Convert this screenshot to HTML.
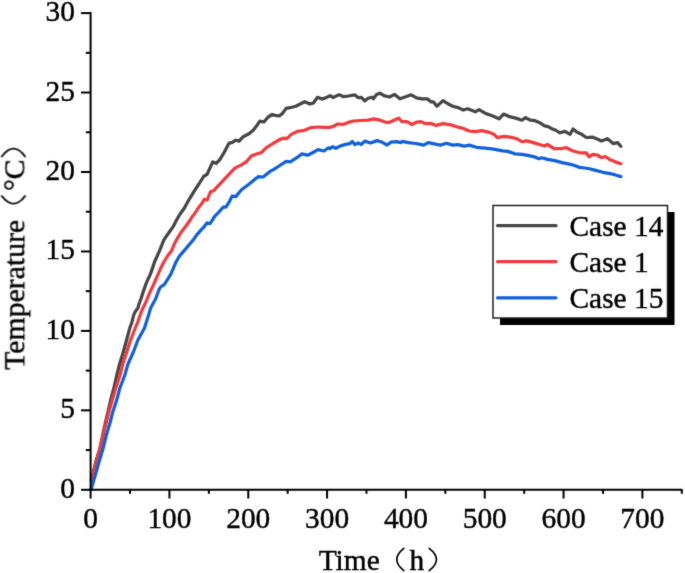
<!DOCTYPE html>
<html><head><meta charset="utf-8"><style>
html,body{margin:0;padding:0;background:#fff;}
svg{display:block;}
text{font-family:"Liberation Serif",serif;fill:#000;stroke:#000;stroke-width:0.4px;}
</style></head><body>
<svg width="685" height="573" viewBox="0 0 685 573">
<defs><filter id="sb" x="0" y="0" width="100%" height="100%" filterUnits="userSpaceOnUse" color-interpolation-filters="sRGB"><feConvolveMatrix order="3" kernelMatrix="0.01134 0.08382 0.01134 0.08382 0.61935 0.08382 0.01134 0.08382 0.01134" divisor="1" edgeMode="duplicate"/></filter></defs>
<rect width="685" height="573" fill="#fff"/>
<g filter="url(#sb)">
<rect width="685" height="573" fill="#fff"/>

<g>
<text transform="translate(75.00,497.80) scale(1,1.02)" font-size="29.4" text-anchor="end">0</text>
<text transform="translate(75.00,418.35) scale(1,1.02)" font-size="29.4" text-anchor="end">5</text>
<text transform="translate(75.00,338.90) scale(1,1.02)" font-size="29.4" text-anchor="end">10</text>
<text transform="translate(75.00,259.45) scale(1,1.02)" font-size="29.4" text-anchor="end">15</text>
<text transform="translate(75.00,180.00) scale(1,1.02)" font-size="29.4" text-anchor="end">20</text>
<text transform="translate(75.00,100.55) scale(1,1.02)" font-size="29.4" text-anchor="end">25</text>
<text transform="translate(75.00,21.10) scale(1,1.02)" font-size="29.4" text-anchor="end">30</text>
<text transform="translate(90.60,528.00) scale(1,1.02)" font-size="29.4" text-anchor="middle">0</text>
<text transform="translate(169.43,528.00) scale(1,1.02)" font-size="29.4" text-anchor="middle">100</text>
<text transform="translate(248.26,528.00) scale(1,1.02)" font-size="29.4" text-anchor="middle">200</text>
<text transform="translate(327.09,528.00) scale(1,1.02)" font-size="29.4" text-anchor="middle">300</text>
<text transform="translate(405.92,528.00) scale(1,1.02)" font-size="29.4" text-anchor="middle">400</text>
<text transform="translate(484.75,528.00) scale(1,1.02)" font-size="29.4" text-anchor="middle">500</text>
<text transform="translate(563.57,528.00) scale(1,1.02)" font-size="29.4" text-anchor="middle">600</text>
<text transform="translate(642.40,528.00) scale(1,1.02)" font-size="29.4" text-anchor="middle">700</text>
</g>
<g fill="none" stroke-width="3.25" stroke-linejoin="round" stroke-linecap="round">
<polyline stroke="#464646" points="91.3,480.0 96.3,460.0 100.1,448.0 102.5,436.0 105.1,424.0 108.0,412.0 110.7,400.0 113.9,388.0 116.6,376.0 119.6,364.0 123.3,352.0 126.6,340.0 129.8,328.0 132.0,322.0 133.4,316.0 134.8,312.4 136.2,310.3 137.8,308.2 139.0,304.0 141.0,298.7 142.5,294.0 144.1,289.3 145.7,284.7 147.6,280.0 150.3,274.4 152.5,268.1 154.5,262.0 157.2,256.0 159.7,250.4 161.8,245.1 163.9,239.9 169.3,232.0 173.3,226.4 176.5,220.1 180.1,214.0 184.4,208.0 188.9,199.8 193.7,191.9 198.9,184.0 203.6,176.5 207.1,174.4 209.9,168.1 212.7,161.9 216.2,163.3 219.6,159.8 223.3,153.9 229.1,143.1 232.4,142.3 235.7,140.2 239.1,141.2 243.2,136.7 249.0,133.8 253.2,130.2 256.5,126.1 259.8,121.1 263.9,122.0 268.1,117.0 272.2,114.5 276.4,115.7 279.5,115.8 282.4,113.6 286.1,108.4 289.9,107.7 295.8,106.2 300.2,104.0 304.7,101.7 309.9,104.0 313.6,102.9 317.3,97.3 322.5,99.1 326.2,97.6 330.0,95.7 333.3,97.5 339.2,94.6 343.5,96.7 348.5,96.0 354.6,94.8 358.4,97.7 361.4,97.4 364.7,100.9 368.1,98.2 372.0,97.2 373.4,98.8 376.5,94.6 380.0,93.2 383.9,95.6 389.5,97.0 394.6,94.4 399.9,98.8 405.1,97.0 411.2,94.8 416.5,97.9 422.0,98.8 427.3,98.8 430.8,101.8 433.4,101.8 436.9,106.2 443.0,100.6 447.4,103.5 452.7,106.2 458.8,107.9 463.2,110.0 467.6,108.8 475.4,111.8 479.0,109.7 485.1,113.2 492.1,115.8 499.1,118.8 503.5,114.1 509.6,116.7 516.6,118.4 521.9,120.2 525.4,117.6 530.6,120.2 535.1,120.7 540.2,122.9 544.6,125.8 548.2,126.6 551.9,128.8 556.3,130.5 559.9,132.8 565.0,131.4 570.1,134.3 573.1,129.0 576.7,132.0 581.1,133.9 586.2,137.5 592.8,137.2 597.2,139.0 601.5,140.9 607.4,138.7 613.2,143.6 617.6,142.6 620.8,146.3"/>
<polyline stroke="#F33A3D" points="91.5,481.0 93.8,472.0 94.8,468.0 96.9,460.0 100.0,448.0 103.0,436.0 105.9,424.0 108.8,412.0 112.3,400.0 115.7,388.0 119.8,376.0 122.8,364.0 126.8,352.0 130.6,340.0 135.3,328.0 137.8,322.0 139.9,316.0 141.2,312.4 142.9,308.2 145.0,304.0 147.4,298.7 149.2,294.0 151.3,289.3 153.6,284.7 155.6,280.0 158.1,274.4 160.8,268.1 163.9,262.0 167.6,256.0 171.8,250.4 173.9,245.1 176.5,239.9 181.3,232.0 185.8,226.2 189.7,220.8 192.0,217.0 194.8,213.5 198.3,208.0 202.6,202.4 204.4,199.2 207.3,200.0 209.2,195.0 210.5,191.9 213.6,190.8 216.5,187.6 221.0,182.8 226.6,176.8 234.9,168.1 241.5,164.9 246.5,161.6 251.5,155.9 258.1,153.5 261.4,152.6 266.4,147.7 273.0,143.5 279.5,139.6 283.9,138.1 286.9,138.6 291.3,134.4 297.3,131.4 303.2,130.7 310.6,127.7 318.1,127.0 324.0,127.4 330.0,127.4 333.9,126.0 337.9,124.0 343.1,124.4 348.3,122.4 353.6,121.0 360.1,120.5 368.0,120.1 373.9,118.8 379.8,120.1 385.0,122.1 389.0,122.4 392.9,120.7 399.0,118.1 401.6,121.6 406.9,121.6 412.1,124.5 416.5,122.1 421.1,121.6 425.5,123.7 430.8,123.3 436.0,125.4 443.0,123.7 450.0,124.6 457.0,126.8 462.3,128.1 469.3,131.0 475.4,131.6 481.6,130.7 488.6,132.1 493.8,134.2 497.3,137.7 504.3,136.3 511.4,137.4 516.6,138.6 521.9,141.6 527.1,140.9 535.1,143.1 540.2,144.8 544.6,146.0 547.5,144.5 554.1,148.5 561.4,148.5 566.5,147.7 572.3,150.7 579.6,152.8 586.2,152.8 589.1,156.8 592.8,154.3 597.2,155.0 601.5,157.7 605.2,156.5 609.6,159.4 614.7,161.6 620.8,163.8"/>
<polyline stroke="#0F61DD" points="91.2,489.0 93.7,480.6 96.2,472.0 97.3,468.0 99.6,460.0 103.2,448.0 106.1,436.0 109.7,424.0 112.8,412.0 116.7,400.0 119.9,388.0 124.5,376.0 128.0,364.0 133.4,352.0 137.9,340.0 144.5,328.0 146.4,322.0 148.3,316.0 149.4,312.4 150.6,308.2 152.8,304.0 155.7,298.7 157.4,294.0 159.2,289.3 160.6,287.0 162.0,286.0 164.3,284.7 167.2,280.0 170.7,274.4 173.4,268.1 176.0,262.0 179.5,256.0 184.4,250.4 189.3,244.5 193.3,239.9 197.2,234.3 201.1,229.9 204.4,226.5 206.9,222.9 210.0,223.7 212.2,220.4 213.9,217.6 216.1,214.8 218.4,212.6 223.1,207.2 225.9,207.2 229.4,201.6 232.2,196.0 235.7,196.6 241.5,189.7 248.2,184.8 253.2,180.7 258.1,176.7 263.1,177.0 269.7,171.7 274.7,168.9 279.8,165.5 286.1,161.4 290.3,161.9 297.3,157.4 301.7,153.9 307.7,155.2 312.1,153.0 318.1,149.6 324.0,151.0 328.5,147.8 330.0,148.6 332.6,146.7 335.9,148.3 340.5,145.9 345.7,144.4 349.7,143.7 352.3,141.5 354.9,144.6 358.2,143.0 361.4,144.4 364.7,141.1 370.6,143.0 377.2,140.6 382.4,142.3 387.0,145.0 391.1,142.1 396.4,141.7 400.7,142.6 402.5,141.4 408.6,142.6 415.6,143.5 420.3,144.4 423.8,145.1 428.1,142.6 434.3,143.8 440.4,145.1 446.5,143.3 452.7,145.1 457.9,144.7 464.1,146.1 469.3,145.1 476.3,147.3 485.1,148.2 493.8,149.1 502.6,150.8 507.9,151.4 514.9,153.8 521.9,154.3 528.9,155.6 534.4,156.8 538.8,158.7 541.7,157.7 547.5,159.4 554.8,160.6 562.1,162.6 569.4,164.1 573.8,165.3 579.6,167.4 588.4,168.5 595.7,170.4 603.0,172.3 608.8,173.3 614.7,174.7 620.8,176.6"/>
</g>
<g stroke="#000" stroke-width="2">
<line x1="90.6" y1="12.1" x2="90.6" y2="490.8"/>
<line x1="89.6" y1="489.8" x2="682.5" y2="489.8"/>
<line x1="81" y1="489.80" x2="90.6" y2="489.80"/>
<line x1="81" y1="410.35" x2="90.6" y2="410.35"/>
<line x1="81" y1="330.90" x2="90.6" y2="330.90"/>
<line x1="81" y1="251.45" x2="90.6" y2="251.45"/>
<line x1="81" y1="172.00" x2="90.6" y2="172.00"/>
<line x1="81" y1="92.55" x2="90.6" y2="92.55"/>
<line x1="81" y1="13.10" x2="90.6" y2="13.10"/>
<line x1="85.8" y1="450.07" x2="90.6" y2="450.07"/>
<line x1="85.8" y1="370.62" x2="90.6" y2="370.62"/>
<line x1="85.8" y1="291.18" x2="90.6" y2="291.18"/>
<line x1="85.8" y1="211.73" x2="90.6" y2="211.73"/>
<line x1="85.8" y1="132.27" x2="90.6" y2="132.27"/>
<line x1="85.8" y1="52.82" x2="90.6" y2="52.82"/>
<line x1="90.60" y1="489.8" x2="90.60" y2="498.5"/>
<line x1="169.43" y1="489.8" x2="169.43" y2="498.5"/>
<line x1="248.26" y1="489.8" x2="248.26" y2="498.5"/>
<line x1="327.09" y1="489.8" x2="327.09" y2="498.5"/>
<line x1="405.92" y1="489.8" x2="405.92" y2="498.5"/>
<line x1="484.75" y1="489.8" x2="484.75" y2="498.5"/>
<line x1="563.57" y1="489.8" x2="563.57" y2="498.5"/>
<line x1="642.40" y1="489.8" x2="642.40" y2="498.5"/>
<line x1="130.01" y1="489.8" x2="130.01" y2="493.8"/>
<line x1="208.84" y1="489.8" x2="208.84" y2="493.8"/>
<line x1="287.67" y1="489.8" x2="287.67" y2="493.8"/>
<line x1="366.50" y1="489.8" x2="366.50" y2="493.8"/>
<line x1="445.33" y1="489.8" x2="445.33" y2="493.8"/>
<line x1="524.16" y1="489.8" x2="524.16" y2="493.8"/>
<line x1="602.99" y1="489.8" x2="602.99" y2="493.8"/>
<line x1="681.82" y1="489.8" x2="681.82" y2="493.8"/>
</g>
<rect x="500" y="212" width="174.5" height="113" fill="#000"/>
<rect x="493" y="205.5" width="174.5" height="112.5" fill="#fff" stroke="#222" stroke-width="1.5"/>
<g stroke-width="3.25" stroke-linecap="round">
<line x1="497.5" y1="225.6" x2="556" y2="225.6" stroke="#464646"/>
<line x1="497.5" y1="261.7" x2="556" y2="261.7" stroke="#F33A3D"/>
<line x1="497.5" y1="297.8" x2="556" y2="297.8" stroke="#0F61DD"/>
</g>
<text transform="translate(569.50,236.00) scale(1,1.02)" font-size="29.4">Case 14</text>
<text transform="translate(569.50,272.10) scale(1,1.02)" font-size="29.4">Case 1</text>
<text transform="translate(569.50,308.10) scale(1,1.02)" font-size="29.4">Case 15</text>
<text transform="translate(318.70,569.80) scale(1,1.02)" font-size="29.4">Time</text>
<text transform="translate(409.60,569.80) scale(1,1.02)" font-size="29.4">h</text>
<g fill="none" stroke="#000" stroke-width="1.7" stroke-linecap="round">
<path d="M403.8,548.3 Q389.8,559.5 403.8,570.7"/>
<path d="M429.2,548.3 Q443.7,559.5 429.2,570.7"/>
</g>
<g transform="translate(24.3,369.8) rotate(-90)">
<text transform="translate(0.00,0.00) scale(1,1.02)" font-size="29.8">Temperature</text>
<text transform="translate(178.70,0.00) scale(1,1.02)" font-size="29.8">°C</text>
<g fill="none" stroke="#000" stroke-width="1.7" stroke-linecap="round">
<path d="M213.3,-22.5 Q229.1,-10.8 213.3,0.8"/>
<path d="M173.8,-22.5 Q158.6,-10.8 173.8,0.8"/>
</g>
</g>
</g>
</svg>
</body></html>
